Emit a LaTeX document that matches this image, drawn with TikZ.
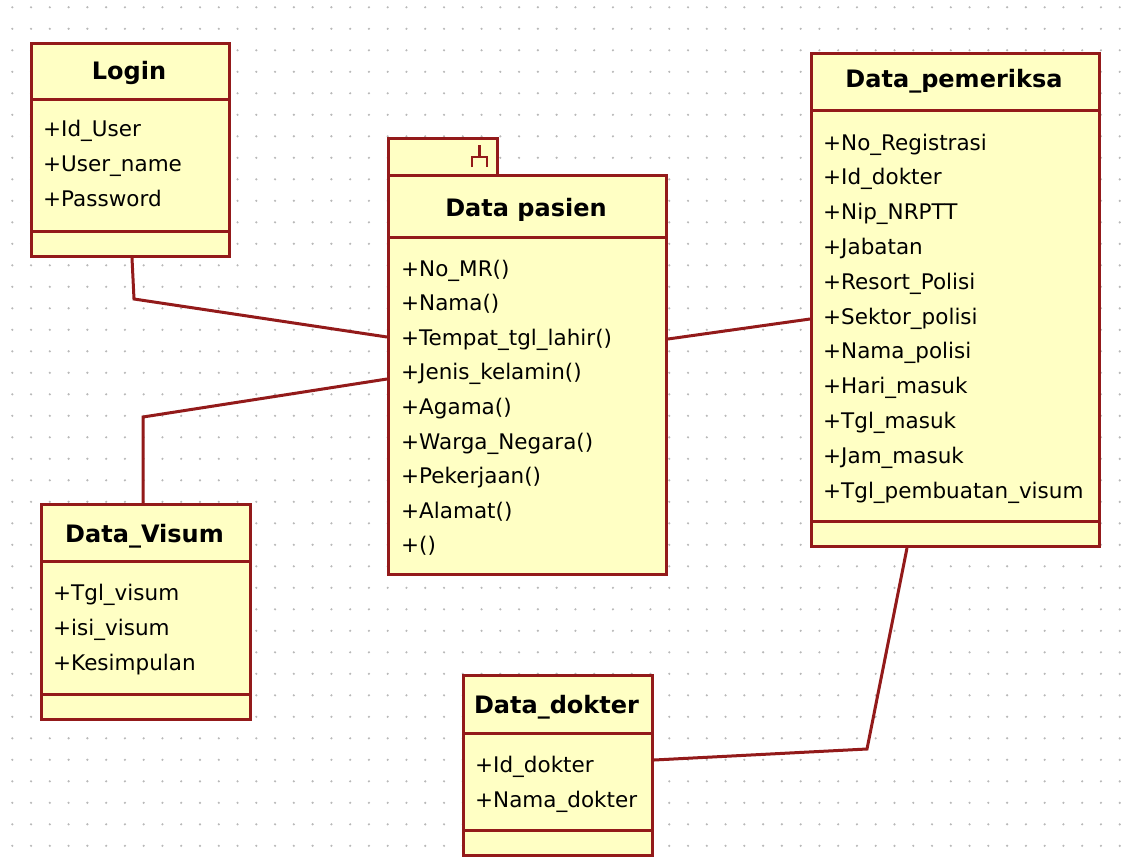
\documentclass[tikz,border=0pt]{standalone}
\usepackage{fontspec}
\setmainfont{DejaVu Sans}
\usetikzlibrary{calc}
\definecolor{umlfill}{HTML}{FFFFC4}
\definecolor{umlline}{HTML}{931A1A}
\definecolor{griddot}{HTML}{B8B8B8}

\begin{document}
\begin{tikzpicture}[x=1pt,y=-1pt,
  classbox/.style={draw=umlline, fill=umlfill, line width=3pt, inner sep=0pt, anchor=north west},
  divider/.style={draw=umlline, line width=3pt},
  assoc/.style={draw=umlline, line width=3pt, line join=miter},
  icon/.style={draw=umlline, line width=2.4pt},
  title/.style={font=\fontsize{24}{28}\selectfont\bfseries, anchor=base, inner sep=0pt},
  member/.style={font=\fontsize{21.5}{26}\selectfont, anchor=base west, inner sep=0pt},
]
\useasboundingbox (0,0) rectangle (1123,864);
\fill[white] (0,0) rectangle (1123,864);

% background grid of dots
\foreach \i in {0,...,59}
  \foreach \j in {0,...,39}
    \fill[griddot] (12.3+18.77*\i, 7.3+21.5*\j) circle (1.2pt);

% ---- Login ----
\node[classbox, minimum width=198pt, minimum height=213pt] (login) at (30,42) {};
\draw[divider] ($(login.north west)+(0,58)$) -- ($(login.north east)+(0,58)$);
\draw[divider] ($(login.south west)+(0,-27)$) -- ($(login.south east)+(0,-27)$);
\node[title] (login-t) at (129,80) {Login};
\node[member] (login-m1) at (43,136) {+Id\_User};
\node[member] (login-m2) at (43,171) {+User\_name};
\node[member] (login-m3) at (43,206) {+Password};

% ---- Data pasien ----
\node[classbox, minimum width=109pt, minimum height=37pt] (pasientab) at (387,137) {};
\draw[icon] (472,167) -- (472,157) -- (487,157) -- (487,167) (479.5,157) -- (479.5,145);
\node[classbox, minimum width=278pt, minimum height=399pt] (pasien) at (387,174) {};
\draw[divider] ($(pasien.north west)+(0,63)$) -- ($(pasien.north east)+(0,63)$);
\node[title] (pasien-t) at (526,216) {Data pasien};
\foreach \txt [count=\k from 0] in {+No\_MR(),+Nama(),+Tempat\_tgl\_lahir(),+Jenis\_kelamin(),+Agama(),+Warga\_Negara(),+Pekerjaan(),+Alamat(),+()}
  \node[member] (pasien-m\k) at (401,276+34.6*\k) {\txt};

% ---- Data_pemeriksa ----
\node[classbox, minimum width=288pt, minimum height=493pt] (pemeriksa) at (810,52) {};
\draw[divider] ($(pemeriksa.north west)+(0,59)$) -- ($(pemeriksa.north east)+(0,59)$);
\draw[divider] ($(pemeriksa.south west)+(0,-27)$) -- ($(pemeriksa.south east)+(0,-27)$);
\node[title] (pemeriksa-t) at (954,88) {Data\_pemeriksa};
\foreach \txt [count=\k from 0] in {+No\_Registrasi,+Id\_dokter,+Nip\_NRPTT,+Jabatan,+Resort\_Polisi,+Sektor\_polisi,+Nama\_polisi,+Hari\_masuk,+Tgl\_masuk,+Jam\_masuk,+Tgl\_pembuatan\_visum}
  \node[member] (pemeriksa-m\k) at (823,150+34.8*\k) {\txt};

% ---- Data_Visum ----
\node[classbox, minimum width=209pt, minimum height=215pt] (visum) at (40,503) {};
\draw[divider] ($(visum.north west)+(0,58)$) -- ($(visum.north east)+(0,58)$);
\draw[divider] ($(visum.south west)+(0,-27)$) -- ($(visum.south east)+(0,-27)$);
\node[title] (visum-t) at (144.5,542) {Data\_Visum};
\node[member] (visum-m1) at (53,600) {+Tgl\_visum};
\node[member] (visum-m2) at (53,635) {+isi\_visum};
\node[member] (visum-m3) at (53,670) {+Kesimpulan};

% ---- Data_dokter ----
\node[classbox, minimum width=189pt, minimum height=180pt] (dokter) at (462,674) {};
\draw[divider] ($(dokter.north west)+(0,59)$) -- ($(dokter.north east)+(0,59)$);
\draw[divider] ($(dokter.south west)+(0,-27)$) -- ($(dokter.south east)+(0,-27)$);
\node[title] (dokter-t) at (556.5,713) {Data\_dokter};
\node[member] (dokter-m1) at (475,772) {+Id\_dokter};
\node[member] (dokter-m2) at (475,807) {+Nama\_dokter};

% ---- associations ----
\coordinate (bendA) at (134,299);
\coordinate (bendB) at (143,417);
\coordinate (bendC) at (867,749);
\draw[assoc] ($(login.south west)+(102,0)$) -- (bendA) -- ($(pasien.north west)+(0,163)$);
\draw[assoc] ($(visum.north west)+(103,0)$) -- (bendB) -- ($(pasien.north west)+(0,205)$);
\draw[assoc] ($(pasien.north east)+(0,165)$) -- ($(pemeriksa.north west)+(0,267)$);
\draw[assoc] ($(pemeriksa.south west)+(97,0)$) -- (bendC) -- ($(dokter.north east)+(0,86)$);
\end{tikzpicture}
\end{document}
